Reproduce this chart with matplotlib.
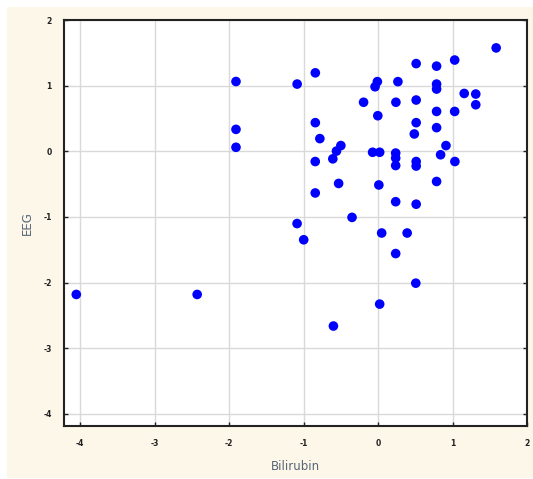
import matplotlib
matplotlib.use("Agg")
import matplotlib.pyplot as plt
from matplotlib.patches import Rectangle

bilirubin = [1.586, 1.029, 0.512, 0.786, -0.842, -1.086, -0.009, -0.040, 0.267, 0.786,
             0.786, 1.157, 1.312, 1.312, -0.194, 0.240, 0.512, 0.786, 1.029, -0.003,
             -0.842, 0.512, 0.786, 0.487, -0.781, -0.499, -0.558, -0.607, 0.912, 0.840,
             -0.073, 0.022, 0.237, 0.237, 0.237, 0.512, 0.512, -0.843, 1.032, -0.529,
             0.011, 0.786, -0.843, 0.237, 0.512, -0.349, -1.087, -0.998, 0.049, 0.391,
             0.237, 0.507, 0.022, -0.599, -1.907, -1.907, -1.907, -4.051, -2.428]
eeg = [1.575, 1.390, 1.336, 1.297, 1.195, 1.024, 1.061, 0.983, 1.061, 1.024,
       0.948, 0.881, 0.872, 0.709, 0.747, 0.747, 0.781, 0.607, 0.607, 0.542,
       0.436, 0.436, 0.360, 0.264, 0.193, 0.087, 0.003, -0.115, 0.087, -0.053,
       -0.015, -0.015, -0.027, -0.103, -0.217, -0.156, -0.225, -0.156, -0.156, -0.490,
       -0.513, -0.460, -0.635, -0.768, -0.806, -1.007, -1.101, -1.348, -1.245, -1.245,
       -1.558, -2.009, -2.328, -2.662, 1.063, 0.334, 0.061, -2.181, -2.181]

x_ticks = [-4, -3, -2, -1, 0, 1, 2]
y_ticks = [-4, -3, -2, -1, 0, 1, 2]

plt.rcParams['axes.unicode_minus'] = False
W, H = 533, 479
fig = plt.figure(figsize=(W / 100, H / 100), dpi=100, facecolor='white')
bg = Rectangle((7 / W, 1 / H), (W - 7) / W, (H - 8) / H,
               transform=fig.transFigure, facecolor='#fdf7ea',
               edgecolor='none', zorder=-10)
fig.add_artist(bg)

ax = fig.add_axes([64 / W, 53 / H, 463 / W, 406 / H])
ax.set_zorder(1)
ax.set_facecolor('white')
ax.scatter(bilirubin, eeg, s=48, marker='o', color='#0000ff', edgecolors='none', zorder=3)

ax.set_xlim(-4.216, 2.0)
ax.set_ylim(-4.185, 2.0)
ax.set_xticks(x_ticks)
ax.set_yticks(y_ticks)
ax.set_xticklabels([str(t) for t in x_ticks], fontsize=5.5, fontweight='bold')
ax.set_yticklabels([str(t) for t in y_ticks], fontsize=5.5, fontweight='bold')
ax.grid(True, color='#d9d9d9', linewidth=1.0, zorder=0)
ax.set_axisbelow(True)
ax.tick_params(axis='both', direction='in', length=3, width=1, pad=9, colors='#222222',
               left=True, right=True, bottom=True, top=False)
for sp in ax.spines.values():
    sp.set_color('#222222')
    sp.set_linewidth(1.5)

ax.set_xlabel('Bilirubin', fontsize=8.5, color='#556677', labelpad=9)
ax.set_ylabel('EEG', fontsize=8.5, color='#556677', labelpad=7)

fig.savefig('out.png', dpi=100, facecolor=fig.get_facecolor())
